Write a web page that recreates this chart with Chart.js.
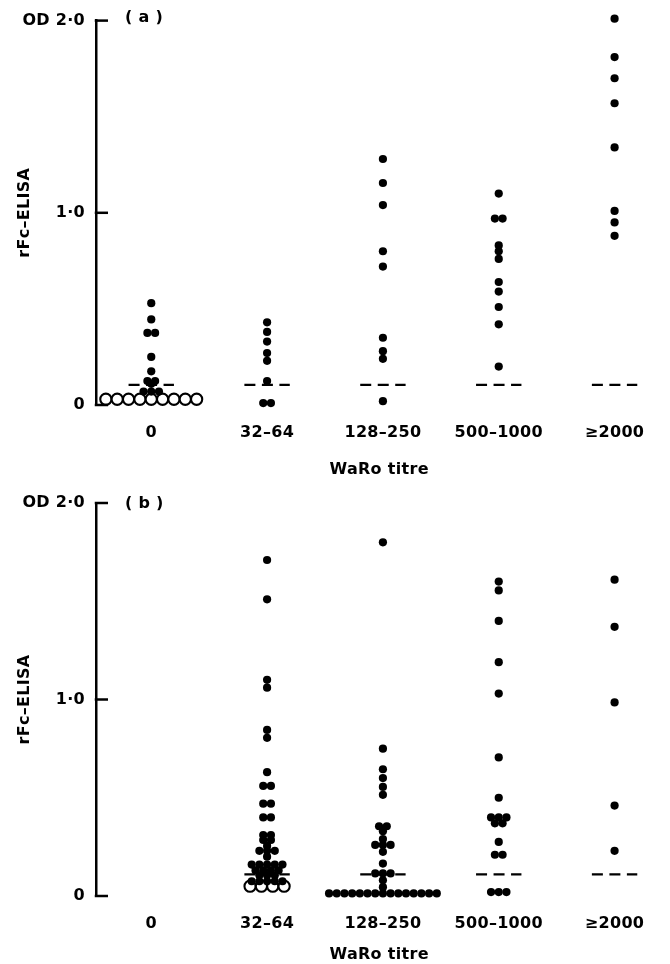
<!DOCTYPE html>
<html>
<head>
<meta charset="utf-8">
<script src="https://cdn.jsdelivr.net/npm/chart.js@4.4.1/dist/chart.umd.min.js"></script>
<style>
  html, body { margin: 0; padding: 0; background: #fff; }
  #page { position: relative; width: 670px; height: 964px; overflow: hidden; }
  .panel { position: absolute; left: 0; width: 670px; height: 482px; }
  .tag { position: absolute; left: 125px; font: bold 16px "DejaVu Sans", sans-serif; line-height: 20px;
         letter-spacing: 0.3px; color: #000; white-space: pre; }
</style>
</head>
<body>
<div id="page">
  <div class="panel" style="top:0"><canvas id="chartA" width="670" height="482"></canvas></div>
  <div class="panel" style="top:482px"><canvas id="chartB" width="670" height="482"></canvas></div>
  <div class="tag" style="top:7px">( a )</div>
  <div class="tag" style="top:493px">( b )</div>
</div>
<script>
// Category and tick labels
const titreLabels = ['0', '32–64', '128–250', '500–1000', '≥2000'];
const yTickValues = [0, 1, 2];
const yTickLabels = ['0', '1·0', 'OD 2·0'];

// Panel (a): rFc-ELISA OD per WaRo titre group (filled = positive sera, open = negative)
const aNeg0 = [0.03, 0.03, 0.03, 0.03, 0.03, 0.03, 0.03, 0.03, 0.03];
const a0 = [0.53, 0.445, 0.375, 0.375, 0.25, 0.175, 0.125, 0.125, 0.11, 0.07, 0.07, 0.07];
const a32 = [0.43, 0.38, 0.33, 0.27, 0.23, 0.125, 0.01, 0.01];
const a128 = [1.28, 1.155, 1.04, 0.80, 0.72, 0.35, 0.28, 0.24, 0.02];
const a500 = [1.10, 0.97, 0.97, 0.83, 0.80, 0.76, 0.64, 0.59, 0.51, 0.42, 0.20];
const a2000 = [2.01, 1.81, 1.70, 1.57, 1.34, 1.01, 0.95, 0.88];
const aCutoff = [0.105, 0.105, 0.105, 0.105, 0.105];

// Panel (b)
const bNeg32 = [0.05, 0.05, 0.05, 0.05];
const b32 = [1.71, 1.51, 1.10, 1.06, 0.845, 0.805, 0.63, 0.56, 0.56, 0.47, 0.47, 0.40, 0.40,
             0.31, 0.31, 0.285, 0.285, 0.255, 0.23, 0.23, 0.23, 0.20,
             0.16, 0.16, 0.16, 0.16, 0.16, 0.13, 0.13, 0.13, 0.13, 0.105, 0.105, 0.105,
             0.075, 0.075, 0.075, 0.075, 0.075];
const b128 = [1.80, 0.75, 0.645, 0.60, 0.555, 0.515, 0.355, 0.355, 0.33, 0.29, 0.26, 0.26, 0.26,
              0.225, 0.165, 0.115, 0.115, 0.115, 0.08, 0.045,
              0.013, 0.013, 0.013, 0.013, 0.013, 0.013, 0.013, 0.013, 0.013, 0.013, 0.013, 0.013, 0.013, 0.013, 0.013];
const b500 = [1.60, 1.555, 1.40, 1.19, 1.03, 0.705, 0.50, 0.40, 0.40, 0.40, 0.37, 0.37, 0.275, 0.21, 0.21,
              0.02, 0.02, 0.02];
const b2000 = [1.61, 1.37, 0.985, 0.46, 0.23];
const bCutoff = [null, 0.11, 0.11, 0.11, 0.11];

const FONT = '"DejaVu Sans", sans-serif';
const TEXT_FONT = { family: FONT, size: 16, weight: 'bold' };
const X_MIN = -0.477, X_MAX = 4.412;
const DOT_GAP = 7.8, RING_GAP = 11.5, CUT_HALF = 23;   // pixel spacing in a dot row

// Dots sharing a value in one column are laid side by side, centred on the column.
function rowLayout(col, values, gapPx, ppu) {
  const counts = new Map();
  values.forEach(v => counts.set(v, (counts.get(v) || 0) + 1));
  const seen = new Map();
  return values.map(v => {
    const n = counts.get(v), i = seen.get(v) || 0;
    seen.set(v, i + 1);
    return { x: col + (i - (n - 1) / 2) * gapPx / ppu, y: v };
  });
}

const textSpacing = {
  id: 'textSpacing',
  beforeDraw(chart) { chart.ctx.letterSpacing = '0.3px'; }
};

// Short tick marks pointing into the plot from the y axis
const inwardTicks = {
  id: 'inwardTicks',
  afterDraw(chart) {
    const ys = chart.scales.y, ctx = chart.ctx, x0 = chart.chartArea.left;
    ctx.save();
    ctx.strokeStyle = '#000';
    ctx.lineWidth = 2.5;
    yTickValues.forEach(v => {
      const py = ys.getPixelForValue(v);
      ctx.beginPath();
      ctx.moveTo(x0 - 1.25, py);
      ctx.lineTo(x0 + 12, py);
      ctx.stroke();
    });
    ctx.restore();
  }
};

function buildPanel(canvasId, cfg) {
  const chart = new Chart(document.getElementById(canvasId), {
    type: 'scatter',
    data: { datasets: [] },
    options: {
      responsive: false,
      animation: false,
      devicePixelRatio: 1,
      layout: { padding: { top: cfg.top, left: 0, right: 0, bottom: 0 } },
      plugins: { legend: { display: false }, tooltip: { enabled: false } },
      scales: {
        x: {
          type: 'linear', min: X_MIN, max: X_MAX,
          grid: { display: false, drawTicks: false },
          border: { display: false },
          afterBuildTicks: ax => { ax.ticks = titreLabels.map((_, i) => ({ value: i })); },
          afterFit: ax => { ax.height = cfg.xHeight; },
          ticks: {
            autoSkip: false, maxRotation: 0, padding: 18.4, color: '#000',
            font: TEXT_FONT,
            callback: (v, i) => titreLabels[i]
          },
          title: {
            display: true, text: 'WaRo titre', color: '#000',
            font: TEXT_FONT,
            padding: { top: 0, bottom: cfg.titlePad }
          }
        },
        y: {
          min: 0, max: 2,
          grid: { display: false, drawTicks: false },
          border: { display: true, color: '#000', width: 2.5 },
          afterBuildTicks: ax => { ax.ticks = yTickValues.map(v => ({ value: v })); },
          afterFit: ax => { ax.width = 96; },
          ticks: {
            padding: 11, color: '#000', font: TEXT_FONT,
            callback: (v, i) => yTickLabels[i]
          },
          title: {
            display: true, text: 'rFc–ELISA', color: '#000',
            font: TEXT_FONT,
            padding: { top: 15, bottom: 0 }
          }
        }
      }
    },
    plugins: [textSpacing, inwardTicks]
  });

  const xs = chart.scales.x;
  const ppu = xs.getPixelForValue(1) - xs.getPixelForValue(0);

  const dots = [];
  cfg.filled.forEach(([col, vals]) => dots.push(...rowLayout(col, vals, DOT_GAP, ppu)));
  const rings = [];
  cfg.open.forEach(([col, vals]) => rings.push(...rowLayout(col, vals, RING_GAP, ppu)));

  const datasets = [
    { data: dots, pointRadius: 4.1, pointHoverRadius: 4.1, backgroundColor: '#000',
      borderWidth: 0, clip: false, order: 0 },
    { data: rings, pointRadius: 5.6, pointHoverRadius: 5.6, backgroundColor: '#fff',
      borderColor: '#000', borderWidth: 2.1, clip: false, order: 1 }
  ];
  cfg.cutoff.forEach((c, col) => {
    if (c === null) return;
    const h = CUT_HALF / ppu;
    datasets.push({
      type: 'line', showLine: true, data: [{ x: col - h, y: c }, { x: col + h, y: c }],
      borderColor: '#000', borderWidth: 2.2, borderDash: [11, 6.5], pointRadius: 0,
      fill: false, clip: false, order: 2
    });
  });
  chart.data.datasets = datasets;
  chart.update();
  return chart;
}

buildPanel('chartA', {
  top: 17, xHeight: 77, titlePad: 2.4,
  filled: [[0, a0], [1, a32], [2, a128], [3, a500], [4, a2000]],
  open: [[0, aNeg0]],
  cutoff: aCutoff
});

buildPanel('chartB', {
  top: 21, xHeight: 68, titlePad: 0,
  filled: [[1, b32], [2, b128], [3, b500], [4, b2000]],
  open: [[1, bNeg32]],
  cutoff: bCutoff
});
</script>
</body>
</html>
